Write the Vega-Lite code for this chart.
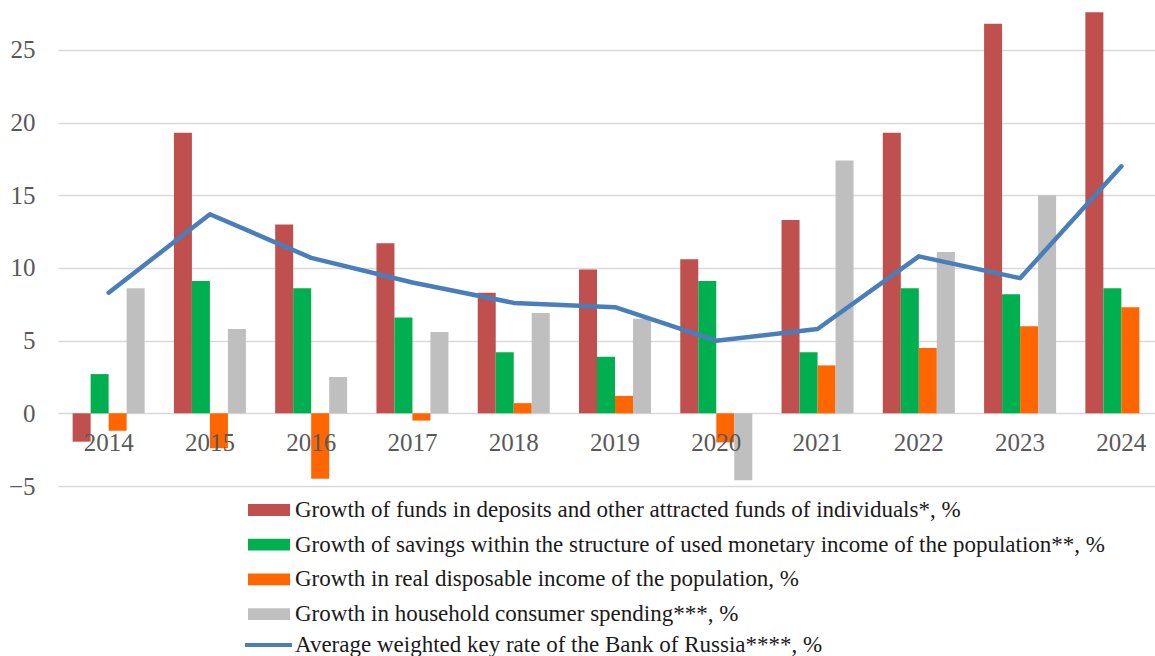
{
  "$schema": "https://vega.github.io/schema/vega-lite/v6.json",
  "autosize": {"type": "none"},
  "padding": {"left": 58, "top": 0, "right": 0, "bottom": 170},
  "width": 1097,
  "height": 486,
  "background": "white",
  "config": {"view": {"stroke": null}, "font": "Liberation Serif"},
  "datasets": {
    "bars": [
      {"year": "2014", "series": "Growth of funds in deposits and other attracted funds of individuals*, %", "value": -1.95},
      {"year": "2015", "series": "Growth of funds in deposits and other attracted funds of individuals*, %", "value": 19.3},
      {"year": "2016", "series": "Growth of funds in deposits and other attracted funds of individuals*, %", "value": 13.0},
      {"year": "2017", "series": "Growth of funds in deposits and other attracted funds of individuals*, %", "value": 11.7},
      {"year": "2018", "series": "Growth of funds in deposits and other attracted funds of individuals*, %", "value": 8.3},
      {"year": "2019", "series": "Growth of funds in deposits and other attracted funds of individuals*, %", "value": 9.9},
      {"year": "2020", "series": "Growth of funds in deposits and other attracted funds of individuals*, %", "value": 10.6},
      {"year": "2021", "series": "Growth of funds in deposits and other attracted funds of individuals*, %", "value": 13.3},
      {"year": "2022", "series": "Growth of funds in deposits and other attracted funds of individuals*, %", "value": 19.3},
      {"year": "2023", "series": "Growth of funds in deposits and other attracted funds of individuals*, %", "value": 26.8},
      {"year": "2024", "series": "Growth of funds in deposits and other attracted funds of individuals*, %", "value": 27.6},
      {"year": "2014", "series": "Growth of savings within the structure of used monetary income of the population**, %", "value": 2.7},
      {"year": "2015", "series": "Growth of savings within the structure of used monetary income of the population**, %", "value": 9.1},
      {"year": "2016", "series": "Growth of savings within the structure of used monetary income of the population**, %", "value": 8.6},
      {"year": "2017", "series": "Growth of savings within the structure of used monetary income of the population**, %", "value": 6.6},
      {"year": "2018", "series": "Growth of savings within the structure of used monetary income of the population**, %", "value": 4.2},
      {"year": "2019", "series": "Growth of savings within the structure of used monetary income of the population**, %", "value": 3.9},
      {"year": "2020", "series": "Growth of savings within the structure of used monetary income of the population**, %", "value": 9.1},
      {"year": "2021", "series": "Growth of savings within the structure of used monetary income of the population**, %", "value": 4.2},
      {"year": "2022", "series": "Growth of savings within the structure of used monetary income of the population**, %", "value": 8.6},
      {"year": "2023", "series": "Growth of savings within the structure of used monetary income of the population**, %", "value": 8.2},
      {"year": "2024", "series": "Growth of savings within the structure of used monetary income of the population**, %", "value": 8.6},
      {"year": "2014", "series": "Growth in real disposable income of the population, %", "value": -1.2},
      {"year": "2015", "series": "Growth in real disposable income of the population, %", "value": -2.4},
      {"year": "2016", "series": "Growth in real disposable income of the population, %", "value": -4.5},
      {"year": "2017", "series": "Growth in real disposable income of the population, %", "value": -0.5},
      {"year": "2018", "series": "Growth in real disposable income of the population, %", "value": 0.7},
      {"year": "2019", "series": "Growth in real disposable income of the population, %", "value": 1.2},
      {"year": "2020", "series": "Growth in real disposable income of the population, %", "value": -2.0},
      {"year": "2021", "series": "Growth in real disposable income of the population, %", "value": 3.3},
      {"year": "2022", "series": "Growth in real disposable income of the population, %", "value": 4.5},
      {"year": "2023", "series": "Growth in real disposable income of the population, %", "value": 6.0},
      {"year": "2024", "series": "Growth in real disposable income of the population, %", "value": 7.3},
      {"year": "2014", "series": "Growth in household consumer spending***, %", "value": 8.6},
      {"year": "2015", "series": "Growth in household consumer spending***, %", "value": 5.8},
      {"year": "2016", "series": "Growth in household consumer spending***, %", "value": 2.5},
      {"year": "2017", "series": "Growth in household consumer spending***, %", "value": 5.6},
      {"year": "2018", "series": "Growth in household consumer spending***, %", "value": 6.9},
      {"year": "2019", "series": "Growth in household consumer spending***, %", "value": 6.5},
      {"year": "2020", "series": "Growth in household consumer spending***, %", "value": -4.6},
      {"year": "2021", "series": "Growth in household consumer spending***, %", "value": 17.4},
      {"year": "2022", "series": "Growth in household consumer spending***, %", "value": 11.1},
      {"year": "2023", "series": "Growth in household consumer spending***, %", "value": 15.0}
    ],
    "rate": [
      {"year": "2014", "series": "Average weighted key rate of the Bank of Russia****, %", "value": 8.3},
      {"year": "2015", "series": "Average weighted key rate of the Bank of Russia****, %", "value": 13.7},
      {"year": "2016", "series": "Average weighted key rate of the Bank of Russia****, %", "value": 10.7},
      {"year": "2017", "series": "Average weighted key rate of the Bank of Russia****, %", "value": 9.0},
      {"year": "2018", "series": "Average weighted key rate of the Bank of Russia****, %", "value": 7.6},
      {"year": "2019", "series": "Average weighted key rate of the Bank of Russia****, %", "value": 7.3},
      {"year": "2020", "series": "Average weighted key rate of the Bank of Russia****, %", "value": 5.0},
      {"year": "2021", "series": "Average weighted key rate of the Bank of Russia****, %", "value": 5.8},
      {"year": "2022", "series": "Average weighted key rate of the Bank of Russia****, %", "value": 10.8},
      {"year": "2023", "series": "Average weighted key rate of the Bank of Russia****, %", "value": 9.3},
      {"year": "2024", "series": "Average weighted key rate of the Bank of Russia****, %", "value": 17.0}
    ]
  },
  "layer": [
    {
      "data": {"name": "bars"},
      "mark": {"type": "bar"},
      "encoding": {
        "x": {
          "field": "year", "type": "nominal",
          "scale": {"range": [0, 1114], "paddingInner": 0.289, "paddingOuter": 0.1445},
          "axis": {
            "orient": "bottom", "offset": -72.7, "domain": false, "ticks": false, "tickSize": 0,
            "grid": false, "labelAngle": 0, "labelFontSize": 25, "labelFont": "Liberation Serif",
            "labelColor": "#595959", "labelPadding": 17, "title": null, "zindex": 1
          }
        },
        "xOffset": {
          "field": "series", "type": "nominal",
          "scale": {
            "domain": [
              "Growth of funds in deposits and other attracted funds of individuals*, %",
              "Growth of savings within the structure of used monetary income of the population**, %",
              "Growth in real disposable income of the population, %",
              "Growth in household consumer spending***, %"
            ],
            "paddingInner": 0, "paddingOuter": 0
          }
        },
        "y": {
          "field": "value", "type": "quantitative",
          "scale": {"domain": [-5, 28.44], "nice": false, "zero": false},
          "axis": {
            "values": [-5, 0, 5, 10, 15, 20, 25], "domain": false, "ticks": false, "tickSize": 0,
            "grid": true, "gridColor": "#D9D9D9", "gridWidth": 1.5, "labelFontSize": 25,
            "labelFont": "Liberation Serif", "labelColor": "#595959", "labelPadding": 23,
            "title": null, "zindex": 0
          }
        },
        "fill": {
          "field": "series", "type": "nominal",
          "scale": {
            "domain": [
              "Growth of funds in deposits and other attracted funds of individuals*, %",
              "Growth of savings within the structure of used monetary income of the population**, %",
              "Growth in real disposable income of the population, %",
              "Growth in household consumer spending***, %"
            ],
            "range": ["#C0504D", "#00B050", "#FF6600", "#BFBFBF"]
          },
          "legend": {
            "orient": "none", "legendX": 190, "legendY": 499, "direction": "vertical",
            "title": null, "symbolType": "M-1,-0.28H1V0.28H-1Z", "symbolSize": 1764,
            "symbolStrokeWidth": 0, "symbolOpacity": 1, "labelFontSize": 23,
            "labelFont": "Liberation Serif", "labelColor": "#1a1a1a", "labelOffset": 5,
            "rowPadding": 11.7, "clipHeight": 22, "labelLimit": 1000, "padding": 0
          }
        }
      }
    },
    {
      "data": {"name": "rate"},
      "mark": {"type": "line", "strokeWidth": 4.5, "strokeJoin": "round", "strokeCap": "round"},
      "encoding": {
        "x": {"field": "year", "type": "nominal", "bandPosition": 0.5},
        "y": {"field": "value", "type": "quantitative"},
        "stroke": {
          "field": "series", "type": "nominal",
          "scale": {
            "domain": ["Average weighted key rate of the Bank of Russia****, %"],
            "range": ["#4A7EBB"]
          },
          "legend": {
            "orient": "none", "legendX": 185, "legendY": 634, "direction": "vertical",
            "title": null, "symbolType": "stroke", "symbolSize": 2209,
            "symbolStrokeWidth": 4, "labelFontSize": 23, "labelFont": "Liberation Serif",
            "labelColor": "#1a1a1a", "labelOffset": 1, "clipHeight": 22, "labelLimit": 1000,
            "padding": 0
          }
        }
      }
    }
  ]
}
